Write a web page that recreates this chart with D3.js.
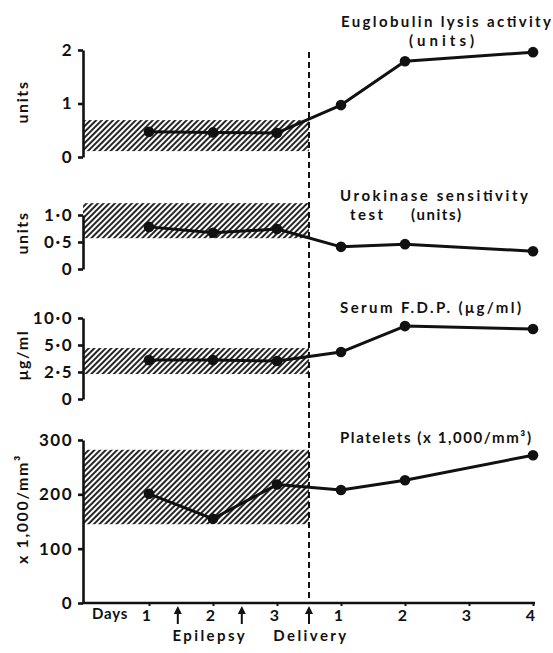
<!DOCTYPE html>
<html><head><meta charset="utf-8">
<script src="https://cdn.jsdelivr.net/npm/d3@7"></script>
<style>
body{margin:0;background:#fff;}
svg text{font-family:Lato,"DejaVu Sans",sans-serif;font-weight:700;fill:#111;}
</style></head><body>
<svg id="chart" width="553" height="653"></svg>
<script>
// ---------- data ----------
const dayIndex = [0,1,2,3,4,5,6];
const dayLabels = ["1","2","3","1","2","3","4"];
const epilepsyAt = [0.45, 1.45];
const deliveryAt = 2.5;

const eugIdx = [0,1,2,3,4,6];
const eugVals = [0.47,0.46,0.45,0.97,1.79,1.96];
const eugNormal = [0.11,0.69];
const eugTicks = [0,1,2];
const eugTickLabels = ["0","1","2"];

const uroIdx = [0,1,2,3,4,6];
const uroVals = [0.78,0.67,0.74,0.41,0.46,0.33];
const uroNormal = [0.57,1.22];
const uroTicks = [0,0.5,1];
const uroTickLabels = ["0","0·5","1·0"];

const fdpIdx = [0,1,2,3,4,6];
const fdpVals = [3.6,3.6,3.52,4.35,8.5,7.96];
const fdpNormal = [2.31,4.72];
const fdpTicks = [0,2.5,5,10];
const fdpTickLabels = ["0","2·5","5·0","10·0"];

const pltIdx = [0,1,2,3,4,6];
const pltVals = [201,155,218,208,226,272];
const pltNormal = [145,282];
const pltTicks = [0,100,200,300];
const pltTickLabels = ["0","100","200","300"];

// ---------- layout ----------
const svg = d3.select("#chart");
const axisX = 83;
const x = d3.scaleLinear().domain([0,6]).range([149,533]);

const defs = svg.append("defs");
const pat = defs.append("pattern").attr("id","hatch").attr("patternUnits","userSpaceOnUse")
  .attr("width",4).attr("height",4).attr("patternTransform","rotate(45)");
pat.append("line").attr("x1",1).attr("y1",0).attr("x2",1).attr("y2",4)
  .attr("stroke","#000").attr("stroke-width",1.7);

const panels = [
  {idx:eugIdx, vals:eugVals, normal:eugNormal, ticks:eugTicks, labels:eugTickLabels,
   y:d3.scaleLinear().domain([0,2]).range([157,50]), ylab:"units", ylabY:102},
  {idx:uroIdx, vals:uroVals, normal:uroNormal, ticks:uroTicks, labels:uroTickLabels,
   y:d3.scaleLinear().domain([0,1]).range([269,215]), ylab:"units", ylabY:233},
  {idx:fdpIdx, vals:fdpVals, normal:fdpNormal, ticks:fdpTicks, labels:fdpTickLabels,
   y:d3.scaleLinear().domain([0,2.5,5,10]).range([399,372,345,318]), ylab:"μg/ml", ylabY:355},
  {idx:pltIdx, vals:pltVals, normal:pltNormal, ticks:pltTicks, labels:pltTickLabels,
   y:d3.scaleLinear().domain([0,300]).range([603,440]), ylab:"x 1,000/mm³", ylabY:509}
];

panels.forEach(p => {
  svg.append("rect")
    .attr("x", axisX).attr("width", x(deliveryAt) - axisX)
    .attr("y", p.y(p.normal[1])).attr("height", p.y(p.normal[0]) - p.y(p.normal[1]))
    .attr("fill","url(#hatch)");
  const g = svg.append("g").attr("transform",`translate(${axisX},0)`)
    .call(d3.axisLeft(p.y).tickValues(p.ticks).tickFormat((d,i)=>p.labels[i])
      .tickSize(5).tickSizeOuter(0).tickPadding(5));
  g.select(".domain").attr("stroke","#111").attr("stroke-width",2.6);
  g.selectAll(".tick line").attr("stroke","#111").attr("stroke-width",2.6);
  g.selectAll(".tick text").attr("font-size",17).attr("font-family",null).attr("fill","#111")
    .attr("letter-spacing",1.5);
  svg.append("text").attr("transform",`translate(28,${p.ylabY}) rotate(-90)`)
    .attr("text-anchor","middle").attr("font-size",16).attr("letter-spacing",1.6).text(p.ylab);
  const pts = p.idx.map((d,i)=>({i:d, v:p.vals[i]}));
  svg.append("path").datum(pts)
    .attr("d", d3.line().x(d=>x(d.i)).y(d=>p.y(d.v)))
    .attr("fill","none").attr("stroke","#111").attr("stroke-width",3).attr("stroke-linejoin","round");
  svg.selectAll(null).data(pts).enter().append("circle")
    .attr("cx",d=>x(d.i)).attr("cy",d=>p.y(d.v)).attr("r",5.3).attr("fill","#111");
});

// delivery dashed line
svg.append("line").attr("x1",x(deliveryAt)).attr("x2",x(deliveryAt))
  .attr("y1",52).attr("y2",603).attr("stroke","#111").attr("stroke-width",2)
  .attr("stroke-dasharray","6,4");

// x axis
const yBase = panels[3].y(0);
svg.append("line").attr("x1",axisX).attr("x2",x(6)+2).attr("y1",yBase).attr("y2",yBase)
  .attr("stroke","#111").attr("stroke-width",2.6);
const xg = svg.append("g").attr("transform",`translate(0,${yBase})`)
  .call(d3.axisBottom(x).tickValues(dayIndex).tickFormat((d,i)=>dayLabels[i])
    .tickSize(3).tickSizeOuter(0).tickPadding(4));
xg.select(".domain").remove();
xg.selectAll(".tick line").attr("stroke","#111").attr("stroke-width",2);
xg.selectAll(".tick text").attr("font-size",16).attr("font-family",null).attr("fill","#111")
  .attr("dx",-3);
svg.append("text").attr("x",92).attr("y",619).attr("font-size",15).attr("letter-spacing",0.8).text("Days");

// arrows
[...epilepsyAt, deliveryAt].forEach(a => {
  const ax = x(a);
  svg.append("line").attr("x1",ax).attr("x2",ax).attr("y1",624).attr("y2",612)
    .attr("stroke","#111").attr("stroke-width",2);
  svg.append("path").attr("d",`M${ax-4},${614}L${ax},${606}L${ax+4},${614}Z`).attr("fill","#111");
});
svg.append("text").attr("x",(x(epilepsyAt[0])+x(epilepsyAt[1]))/2).attr("y",641)
  .attr("text-anchor","middle").attr("font-size",15).attr("letter-spacing",2.4).text("Epilepsy");
svg.append("text").attr("x",x(deliveryAt)+2).attr("y",641)
  .attr("text-anchor","middle").attr("font-size",15).attr("letter-spacing",2.4).text("Delivery");

// titles
function title(t, tx, ty, len){
  const el = svg.append("text").attr("x",tx).attr("y",ty).attr("font-size",15).text(t);
  if (len) el.attr("textLength",len).attr("lengthAdjust","spacing");
}
title("Euglobulin lysis activity", 341, 27, 210);
title("(units)", 409, 46, 65);
title("Urokinase sensitivity", 340, 201, 188);
title("test", 350, 220, 33);
title("(units)", 411, 220, 50);
title("Serum F.D.P. (μg/ml)", 340, 313, 181);
title("Platelets (x 1,000/mm³)", 340, 443, 191);
</script>
</body></html>
